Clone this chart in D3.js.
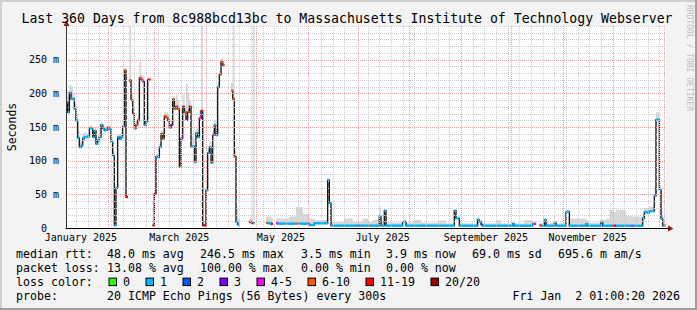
<!DOCTYPE html>
<html>
<head>
<meta charset="utf-8">
<script src="https://cdn.jsdelivr.net/npm/d3@7"></script>
<style>
  html, body { margin: 0; padding: 0; background: #f3f3f3; }
  svg { display: block; }
</style>
</head>
<body>
<div id="chart"></div>
<script>
// smokeping style 360 day graph, one bin per day (ms values)

const titleText = "Last 360 Days from 8c988bcd13bc to Massachusetts Institute of Technology Webserver";
const yTickValues = [0, 50, 100, 150, 200, 250];

// loss buckets: label + colour
const lossLabels = ["0", "1", "2", "3", "4-5", "6-10", "11-19", "20/20"];
const lossColors = ["#26ff00", "#00b8ff", "#0059ff", "#7e00ff", "#ff00ff", "#ff5500", "#ff0000", "#a10000"];

// days 0..103 (Jan - mid April), median rtt in ms, null = no data
const earlyMedian = [
  187, 172, 201, 192, 192, 177, 160, 134, 120, 122,
  133, 135, 135, 136, 148, 148, 135, 144, 125, 130,
  135, 153, 148, 145, 146, 149, 147, 128, 108, 4,
  59, 135, 132, 135, 151, 234, 46, null, 219, 190,
  170, 148, 153, 160, 223, 220, 218, 153, 158, 220,
  220, null, 4, 51, 106, 105, 120, 140, 133, 166,
  164, 160, 149, 153, 191, 177, 180, 177, 91, 133,
  180, 172, 161, 172, 180, 121, 121, 98, 141, 135,
  163, 174, 4, 4, 56, 111, 120, 97, 138, 153,
  138, 209, 228, 246.5, 241.6, null, null, null, null, 204,
  192, 106, 9, 5
];
// loss bucket index per day
const earlyLoss = [
  1, 1, 1, 1, 1, 1, 1, 1, 1, 1,
  1, 1, 1, 1, 1, 1, 1, 1, 1, 1,
  1, 1, 1, 1, 1, 1, 1, 1, 1, 1,
  1, 1, 1, 1, 1, 5, 6, 0, 6, 5,
  5, 4, 5, 5, 5, 4, 4, 1, 1, 6,
  5, 0, 6, 6, 1, 1, 1, 5, 5, 5,
  5, 5, 5, 3, 5, 5, 6, 5, 5, 4,
  6, 5, 3, 5, 6, 1, 1, 1, 1, 1,
  4, 6, 6, 6, 1, 1, 1, 1, 4, 1,
  1, 1, 5, 5, 5, 0, 0, 0, 0, 5,
  5, 5, 1, 1
];
// top of the smoke per day (ms)
const earlySmoke = [
  205, 195, 213, 210, 200, 185, 170, 145, 128, 130,
  140, 142, 140, 142, 152, 152, 140, 150, 132, 138,
  142, 157, 153, 150, 152, 153, 152, 135, 115, 10,
  65, 140, 138, 140, 160, 238, 50, null, 310, 198,
  178, 155, 160, 168, 246, 228, 225, 160, 165, 225,
  224, null, 8, 55, 110, 110, 125, 145, 140, 172,
  172, 168, 155, 160, 196, 190, 197, 190, 96, 140,
  198, 180, 214, 200, 190, 137, 137, 105, 148, 145,
  175, 310, 10, 10, 62, 118, 128, 104, 146, 160,
  146, 215, 233, 252, 248, null, null, null, null, 215,
  310, 115, 30, 15
];

// days 104..359 as runs: [firstDay, lastDay, median ms, loss bucket, smoke top ms]
const laterRuns = [
  [104, 109, null, 0, null], [110, 110, 9, 6, 14], [111, 111, 8, 6, 14],
  [112, 112, 7, 1, 310], [113, 119, null, 0, null], [120, 120, 8, 5, 17],
  [121, 122, 7, 1, 17], [123, 123, 6, 6, 15], [124, 125, null, 0, null],
  [126, 126, 7, 4, 14], [127, 133, 6.5, 1, 14], [134, 137, 6.5, 1, 17],
  [138, 138, 6.5, 5, 31], [139, 141, 6.5, 1, 31], [142, 145, 6.5, 1, 21],
  [146, 148, 4.4, 1, 14], [149, 156, 7, 1, 12], [157, 157, 71, 1, 74],
  [158, 158, 37, 1, 40], [159, 166, 3.5, 1, 9], [167, 171, 3.5, 1, 14],
  [172, 174, 3.5, 1, 9], [175, 175, 3.5, 2, 9], [176, 177, 3.5, 1, 9],
  [178, 180, 3.5, 1, 14], [181, 181, 3.5, 5, 10], [182, 183, 3.5, 1, 9],
  [184, 187, 3.5, 1, 12], [188, 188, 17, 1, 31], [189, 190, 3.5, 1, 10],
  [191, 191, 25.6, 1, 28], [192, 201, 3.5, 1, 8], [202, 203, 9.4, 1, 12],
  [204, 207, 3.5, 1, 8], [208, 212, 3.5, 1, 12], [213, 222, 3.5, 1, 8],
  [223, 227, 3.5, 1, 11], [228, 232, 3.5, 1, 7], [233, 233, 25.6, 1, 28],
  [234, 235, 14.3, 1, 17], [236, 245, 3.4, 1, 7], [246, 246, 3.4, 1, 15],
  [247, 247, 12, 1, 17], [248, 248, 9.4, 1, 12], [249, 249, 5, 2, 8],
  [250, 257, 3.4, 1, 7], [258, 260, 3.4, 1, 12], [261, 267, 3.4, 1, 7],
  [268, 268, 6, 1, 9], [269, 274, 3.4, 1, 7], [275, 279, 3.4, 1, 12],
  [280, 280, 6, 1, 10], [281, 281, 6, 4, 10], [282, 283, null, 0, null],
  [284, 284, 4, 5, 8], [285, 286, 3.4, 1, 7], [287, 287, 12, 1, 15],
  [288, 288, 3.4, 1, 12], [289, 292, 3.4, 1, 7], [293, 293, 8, 1, 10],
  [294, 299, 3.4, 1, 7], [300, 301, 24, 1, 27], [302, 311, 3.4, 1, 14],
  [312, 312, 6, 1, 12], [313, 319, 3.4, 1, 8], [320, 320, 3.4, 1, 12],
  [321, 321, 9, 1, 13], [322, 323, 3.4, 1, 12], [324, 325, 3.4, 1, 14],
  [326, 327, 3.4, 1, 27], [328, 329, 3.4, 6, 24], [330, 335, 3.4, 1, 27],
  [336, 338, 3.4, 1, 18], [339, 339, 3.4, 4, 17], [340, 345, 3.4, 1, 17],
  [346, 346, 14.3, 1, 20], [347, 347, 24, 1, 30], [348, 349, 23, 1, 30],
  [350, 352, 25, 1, 32], [353, 353, 48, 1, 61], [354, 355, 161, 1, 172],
  [356, 356, 57, 1, 63], [357, 357, 14, 1, 20], [358, 358, 3.4, 1, 6],
  [359, 359, 3.9, 0, 5]
];

// legend rows (text, x position)
const statRows = [
  [["median rtt:", 16], ["48.0 ms avg", 107], ["246.5 ms max", 200], ["3.5 ms min", 301], ["3.9 ms now", 386], ["69.0 ms sd", 472], ["695.6 m am/s", 558]],
  [["packet loss:", 16], ["13.08 % avg", 107], ["100.00 % max", 200], ["0.00 % min", 301], ["0.00 % now", 386]]
];
const probeText = "20 ICMP Echo Pings (56 Bytes) every 300s";
const stampText = "Fri Jan  2 01:00:20 2026";

const W = 697, H = 310;
const plot = { left: 66, right: 666, top: 26, bottom: 228 };
const mono = "'DejaVu Sans Mono', monospace";

const start = new Date(2025, 0, 7, 1, 0, 20);
const end = new Date(2026, 0, 2, 1, 0, 20);
const DAY = 864e5;

const x = d3.scaleTime().domain([start, end]).range([plot.left, plot.right]);
const y = d3.scaleLinear().domain([0, 300]).range([plot.bottom, plot.top]);

// 1) flatten into per-day bins
const bins = [];
earlyMedian.forEach((v, i) => bins.push({ day: i, ms: v, loss: earlyLoss[i], top: earlySmoke[i] }));
laterRuns.forEach(([a, b, ms, loss, top]) => {
  for (let i = a; i <= b; i++) bins.push({ day: i, ms, loss, top });
});
bins.forEach(d => {
  d.t0 = new Date(+start + d.day * DAY);
  d.t1 = new Date(+start + (d.day + 1) * DAY);
});

const svg = d3.select("#chart").append("svg")
  .attr("width", W).attr("height", H)
  .style("font-family", mono);

// 2) background + 3d border
svg.append("rect").attr("width", W).attr("height", H).attr("fill", "#f3f3f3");
svg.append("path").attr("d", `M0,${H} V0 H${W}`).attr("fill", "none")
  .attr("stroke", "#cfcfcf").attr("stroke-width", 4);
svg.append("path").attr("d", `M${W},0 V${H} H0`).attr("fill", "none")
  .attr("stroke", "#9e9e9e").attr("stroke-width", 4);

svg.append("rect")
  .attr("x", plot.left).attr("y", plot.top)
  .attr("width", plot.right - plot.left).attr("height", plot.bottom - plot.top)
  .attr("fill", "#fff");

svg.append("defs").append("clipPath").attr("id", "plotclip")
  .append("rect")
  .attr("x", plot.left).attr("y", plot.top)
  .attr("width", plot.right - plot.left).attr("height", plot.bottom - plot.top);

const g = svg.append("g").attr("clip-path", "url(#plotclip)");

// 3) smoke
g.selectAll(".smoke")
  .data(bins.filter(d => d.ms != null && d.top != null))
  .enter().append("rect")
  .attr("class", "smoke")
  .attr("x", d => x(d.t0))
  .attr("width", d => x(d.t1) - x(d.t0) + 0.2)
  .attr("y", d => y(d.top))
  .attr("height", d => Math.max(0, y(d.ms) - y(d.top)))
  .attr("fill", "#d6d6d6");

// 4) grid
const grid = svg.append("g").attr("fill", "none").attr("stroke-dasharray", "1,1");
const minorColor = "#cccccc", majorColor = "#f09a9a";

const monthStarts = d3.timeMonth.range(d3.timeMonth.ceil(start), end);
const weekStarts = d3.timeMonday.range(start, end)
  .filter(t => !monthStarts.some(m => Math.abs(x(m) - x(t)) < 2));

grid.selectAll(".vminor").data(weekStarts).enter().append("line")
  .attr("x1", d => Math.round(x(d)) + 0.5).attr("x2", d => Math.round(x(d)) + 0.5)
  .attr("y1", plot.top).attr("y2", plot.bottom)
  .attr("stroke", minorColor);

const yMinor = d3.range(10, 301, 10).filter(v => v % 50 !== 0 || v === 300);
grid.selectAll(".hminor").data(yMinor).enter().append("line")
  .attr("x1", plot.left).attr("x2", plot.right)
  .attr("y1", d => Math.round(y(d)) + 0.5).attr("y2", d => Math.round(y(d)) + 0.5)
  .attr("stroke", minorColor);

grid.selectAll(".vmajor").data(monthStarts).enter().append("line")
  .attr("x1", d => Math.round(x(d)) + 0.5).attr("x2", d => Math.round(x(d)) + 0.5)
  .attr("y1", plot.top).attr("y2", plot.bottom)
  .attr("stroke", majorColor);

grid.selectAll(".hmajor").data(yTickValues.filter(v => v > 0)).enter().append("line")
  .attr("x1", plot.left).attr("x2", plot.right)
  .attr("y1", d => Math.round(y(d)) + 0.5).attr("y2", d => Math.round(y(d)) + 0.5)
  .attr("stroke", majorColor);

// 5) median line (step), gaps where no data
const pts = [];
bins.forEach(d => {
  pts.push({ t: d.t0, v: d.ms });
  pts.push({ t: d.t1, v: d.ms });
});
const line = d3.line()
  .defined(d => d.v != null)
  .x(d => x(d.t))
  .y(d => y(d.v));

g.append("path")
  .datum(pts)
  .attr("d", line)
  .attr("fill", "none")
  .attr("stroke", "#1a1a1a")
  .attr("stroke-width", 1.4);

// 6) loss coloured band over the median
g.selectAll(".loss")
  .data(bins.filter(d => d.ms != null))
  .enter().append("rect")
  .attr("class", "loss")
  .attr("x", d => x(d.t0))
  .attr("width", d => x(d.t1) - x(d.t0) + 0.2)
  .attr("y", d => y(d.ms) - 1.2)
  .attr("height", 2.4)
  .attr("fill", d => lossColors[d.loss]);

// 7) axes with arrows
svg.append("line")
  .attr("x1", plot.left - 0.5).attr("x2", 670)
  .attr("y1", plot.bottom + 0.5).attr("y2", plot.bottom + 0.5)
  .attr("stroke", "#000");
svg.append("path")
  .attr("d", `M668,${plot.bottom - 2.5} L673.5,${plot.bottom + 0.5} L668,${plot.bottom + 3.5} Z`)
  .attr("fill", "#8b1a1a");
svg.append("line")
  .attr("x1", plot.left + 0.5).attr("x2", plot.left + 0.5)
  .attr("y1", plot.bottom + 0.5).attr("y2", 24)
  .attr("stroke", "#333");
svg.append("path")
  .attr("d", `M${plot.left - 2.5},26 L${plot.left + 0.5},20.5 L${plot.left + 3.5},26 Z`)
  .attr("fill", "#8b1a1a");

// y labels
svg.append("g").selectAll("text")
  .data(yTickValues).enter().append("text")
  .attr("x", d => d === 0 ? 47 : 59)
  .attr("y", d => y(d) + 3.5)
  .attr("text-anchor", "end")
  .style("font-size", "10px")
  .attr("fill", "#000")
  .text(d => d === 0 ? "0" : `${d} m`);

// month labels, centred half a month after the start, only inside the plot
const labelMonths = d3.timeMonth.every(2).range(new Date(2025, 0, 1), end)
  .filter(d => x(new Date(+d + 15 * DAY)) < plot.right);
svg.append("g").selectAll("text")
  .data(labelMonths).enter().append("text")
  .attr("x", d => x(new Date(+d + 15 * DAY)))
  .attr("y", 240.5)
  .attr("text-anchor", "middle")
  .style("font-size", "10px")
  .text(d => d3.timeFormat("%B %Y")(d));

// axis title
svg.append("text")
  .attr("transform", `translate(15.5, ${(plot.top + plot.bottom) / 2}) rotate(-90)`)
  .attr("text-anchor", "middle")
  .style("font-size", "11.5px")
  .text("Seconds");

// title
svg.append("text")
  .attr("x", 347).attr("y", 23)
  .attr("text-anchor", "middle")
  .style("font-size", "13.2px")
  .text(titleText);

// watermark
svg.append("text")
  .attr("transform", "translate(686.5, 5) rotate(90)")
  .style("font-size", "8px")
  .attr("fill", "#bdbdbd")
  .text("RRDTOOL / TOBI OETIKER");

// 8) legend
const legend = svg.append("g").style("font-size", "11.6px").attr("fill", "#000");
const rowY = [257.6, 271.6, 285.6, 299.6];

statRows.forEach((row, r) => {
  row.forEach(([txt, lx]) => {
    legend.append("text").attr("x", lx).attr("y", rowY[r])
      .attr("xml:space", "preserve").text(txt);
  });
});

legend.append("text").attr("x", 16).attr("y", rowY[2]).text("loss color:");
let lx = 108.5;
lossLabels.forEach((lab, i) => {
  legend.append("rect")
    .attr("x", lx + 0.5).attr("y", rowY[2] - 7.5)
    .attr("width", 7.5).attr("height", 7.5)
    .attr("fill", lossColors[i])
    .attr("stroke", "#000").attr("stroke-width", 1);
  legend.append("text").attr("x", lx + 14.5).attr("y", rowY[2]).text(lab);
  lx += 37 + (lab.length - 1) * 7;
});

legend.append("text").attr("x", 16).attr("y", rowY[3]).text("probe:");
legend.append("text").attr("x", 107).attr("y", rowY[3]).text(probeText);
legend.append("text").attr("x", 680).attr("y", rowY[3])
  .attr("text-anchor", "end").attr("xml:space", "preserve").text(stampText);
</script>
</body>
</html>
